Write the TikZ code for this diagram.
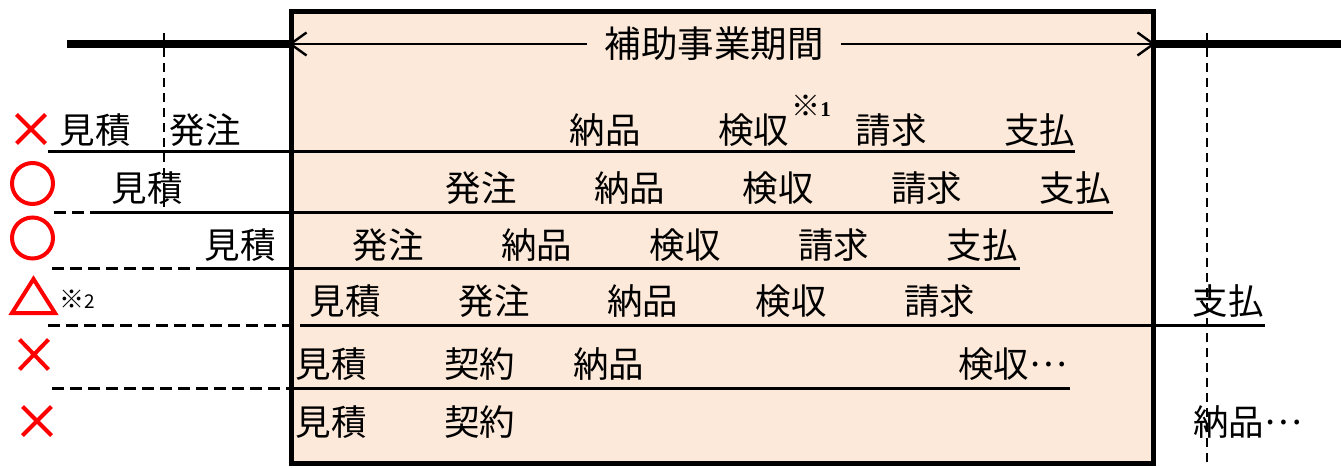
\documentclass[tikz,border=0pt]{standalone}
\usepackage{fontspec}
\setmainfont{Noto Sans CJK JP}
\newfontfamily\numfont{Liberation Serif}
\usetikzlibrary{arrows.meta}
\definecolor{peach}{HTML}{FDE9D9}
\newcommand{\middots}{\raisebox{0.3em}{…}}
\tikzstyle{period} = [
    rectangle, minimum width=862pt, minimum height=451pt,
    draw=black, line width=5pt, fill=peach
]
\tikzstyle{word} = [inner sep=0pt, font=\fontsize{35.5}{40}\selectfont]
\tikzstyle{note} = [inner sep=0pt, font=\fontsize{25}{28}\selectfont]
\tikzstyle{arrow} = [line width=1.6pt,
    -{Straight Barb[length=16pt, width=23pt, line width=2.4pt]}]
\tikzstyle{timeline} = [line width=7.5pt]
\tikzstyle{rowline} = [line width=3pt]
\tikzstyle{rowdash} = [line width=3pt, dash pattern=on 12pt off 6pt]
\tikzstyle{guide} = [line width=1.8pt, dash pattern=on 9pt off 6pt]
\tikzstyle{sign} = [draw=red, line width=4pt]

\begin{document}
\begin{tikzpicture}[x=1pt, y=-1pt, node distance=148.5pt]
    \useasboundingbox (0,0) rectangle (1341,468);
    % subsidy period
    \node (period) [period] at (722,237.5) {};
    \node (title) [word, inner xsep=17pt, font=\fontsize{36.5}{40}\selectfont]
        at (714,44) {補助事業期間};
    \draw [arrow] (title.west) -- (title.west -| period.west);
    \draw [arrow] (title.east) -- (title.east -| period.east);
    \coordinate (tl) at (67,44);
    \coordinate (tr) at (1341,44);
    \draw [timeline] (tl) -- (tl -| period.west);
    \draw [timeline] (tr -| period.east) -- (tr);
    \draw [guide] (164,33) -- (164,210);
    \draw [guide] (1207,33) -- (1207,468);

    % row 1
    \node (r1a) [word] at (95,130) {見積};
    \node (r1b) [word] at (205,130) {発注};
    \node (r1c) [word] at (605,130) {納品};
    \node (r1d) [word, right of=r1c] {検収};
    \node (r1n) [note, font=\fontsize{29}{32}\selectfont\bfseries]
        at (811,106) {※{\numfont\bfseries\fontsize{21}{24}\selectfont 1}};
    \node (r1e) [word, right of=r1d, xshift=-11pt] {請求};
    \node (r1f) [word, right of=r1e] {支払};
    \draw [rowline] (48,152) -- (1075,152);

    % row 2
    \node (r2a) [word] at (147,188) {見積};
    \node (r2b) [word] at (481,188) {発注};
    \node (r2c) [word, right of=r2b] {納品};
    \node (r2d) [word, right of=r2c] {検収};
    \node (r2e) [word, right of=r2d] {請求};
    \node (r2f) [word, right of=r2e] {支払};
    \draw [rowdash] (54,212) -- (100,212);
    \draw [rowline] (100,212) -- (1113,212);

    % row 3
    \node (r3a) [word] at (240,245) {見積};
    \node (r3b) [word] at (388,245) {発注};
    \node (r3c) [word, right of=r3b] {納品};
    \node (r3d) [word, right of=r3c] {検収};
    \node (r3e) [word, right of=r3d] {請求};
    \node (r3f) [word, right of=r3e] {支払};
    \draw [rowdash] (52,268) -- (197,268);
    \draw [rowline] (197,268) -- (1020,268);

    % row 4
    \node (r4a) [word] at (345,301) {見積};
    \node (r4b) [word] at (494,301) {発注};
    \node (r4c) [word, right of=r4b] {納品};
    \node (r4d) [word, right of=r4c] {検収};
    \node (r4e) [word, right of=r4d] {請求};
    \node (r4f) [word] at (1228,301) {支払};
    \node (r4n) [note] at (77,299) {※{\fontsize{19}{22}\selectfont 2}};
    \draw [rowdash] (48,325) -- (303,325);
    \draw [rowline] (303,325) -- (1265,325);

    % row 5
    \node (r5a) [word] at (331,364) {見積};
    \node (r5b) [word, right of=r5a] {契約};
    \node (r5c) [word, right of=r5b, xshift=-19.5pt] {納品};
    \node (r5d) [word, anchor=west] at (958,364) {検収\middots};
    \draw [rowdash] (52,388) -- (291,388);
    \draw [rowline] (291,388) -- (1070,388);

    % row 6
    \node (r6a) [word] at (331,422) {見積};
    \node (r6b) [word, right of=r6a] {契約};
    \node (r6c) [word, anchor=west] at (1193,422) {納品\middots};

    % judgement signs
    \draw [sign] (16.5,114.5) -- (45.5,143.5) (16.5,143.5) -- (45.5,114.5);
    \draw [sign] (32.5,183.5) circle (20.5pt);
    \draw [sign] (32.5,238) circle (20.5pt);
    \draw [sign, line join=miter] (33.5,279) -- (55,313) -- (12,313) -- cycle;
    \draw [sign] (19.5,339.5) -- (48.5,369.5) (19.5,369.5) -- (48.5,339.5);
    \draw [sign] (22.5,406.5) -- (51.5,435.5) (22.5,435.5) -- (51.5,406.5);
\end{tikzpicture}
\end{document}
